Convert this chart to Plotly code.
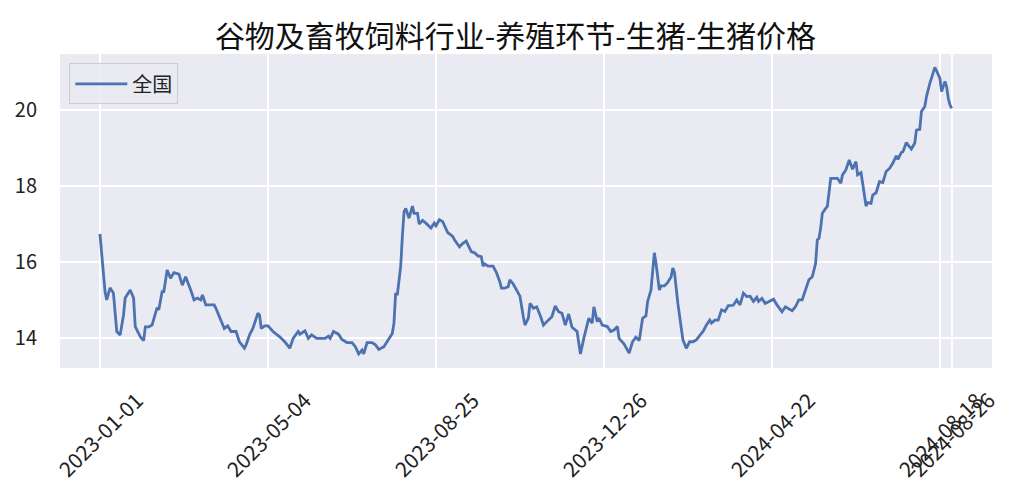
import plotly.graph_objects as go

title_text = "谷物及畜牧饲料行业-养殖环节-生猪-生猪价格"
series_name = "全国"

# row index of each sampled point (x axis is row position) and price values
row_idx = [0, 3, 4, 6, 8, 10, 12, 14, 15, 18, 20, 21, 24, 26, 27, 29, 31, 33, 34, 35, 37, 38, 40, 42, 44, 47, 49, 51, 53, 54,
           56, 58, 60, 61, 63, 68, 69, 72, 74, 76, 78, 81, 83, 86, 87, 89, 91, 94, 95, 96, 98, 100, 103, 107, 110, 113, 115, 118, 119, 122,
           124, 126, 129, 134, 136, 137, 139, 142, 144, 147, 150, 152, 154, 156, 157, 159, 162, 164, 166, 169, 172, 174, 175, 176, 177, 179, 180, 181, 182, 184,
           186, 187, 189, 190, 192, 194, 197, 199, 200, 202, 204, 205, 207, 210, 211, 214, 216, 218, 221, 223, 225, 227, 228, 229, 231, 234, 236, 238, 239, 241,
           243, 244, 246, 248, 250, 252, 253, 255, 256, 258, 260, 262, 264, 266, 269, 271, 273, 275, 277, 279, 281, 284, 286, 288, 291, 293, 294, 296, 297, 299,
           302, 304, 306, 308, 309, 312, 314, 315, 317, 319, 321, 322, 323, 325, 326, 328, 330, 331, 333, 334, 336, 338, 340, 341, 342, 344, 347, 349, 351, 353,
           355, 358, 359, 361, 363, 364, 366, 368, 370, 372, 374, 377, 379, 381, 383, 385, 387, 389, 391, 392, 394, 396, 399, 401, 403, 406, 408, 410, 412, 414,
           416, 418, 420, 422, 424, 426, 427, 428, 429, 430, 432, 433, 435, 439, 441, 442, 444, 446, 448, 450, 451, 453, 454, 456, 457, 459, 460, 462, 464, 466,
           468, 470, 472, 474, 475, 477, 478, 480, 481, 483, 485, 486, 488, 489, 491, 492, 494, 496, 497, 498, 500, 501, 503, 504, 505, 506, 507]

price = [16.74, 15.22, 15.00, 15.32, 15.18, 14.17, 14.08, 14.60, 15.05, 15.26, 15.05, 14.30, 14.03, 13.93, 14.29, 14.29, 14.34, 14.69, 14.80, 14.74, 15.22, 15.22, 15.79, 15.57, 15.72, 15.68, 15.39, 15.61, 15.39, 15.26,
         15.00, 15.05, 15.00, 15.13, 14.87, 14.87, 14.78, 14.47, 14.25, 14.32, 14.17, 14.17, 13.90, 13.73, 13.82, 14.08, 14.25, 14.65, 14.60, 14.25, 14.32, 14.32, 14.17, 14.03, 13.90, 13.73, 13.99, 14.17, 14.10, 14.19,
         13.99, 14.08, 13.99, 13.99, 14.05, 13.99, 14.17, 14.10, 13.96, 13.88, 13.88, 13.77, 13.58, 13.68, 13.58, 13.88, 13.88, 13.82, 13.70, 13.77, 13.96, 14.12, 14.39, 15.18, 15.13, 15.88, 16.67, 17.32, 17.41, 17.15,
         17.47, 17.28, 17.28, 17.00, 17.09, 17.02, 16.89, 17.02, 16.95, 17.11, 17.06, 16.97, 16.77, 16.67, 16.58, 16.40, 16.49, 16.55, 16.27, 16.24, 16.16, 16.14, 15.89, 15.95, 15.89, 15.89, 15.72, 15.48, 15.31, 15.31,
         15.35, 15.53, 15.42, 15.26, 15.10, 14.56, 14.34, 14.52, 14.91, 14.78, 14.82, 14.60, 14.34, 14.43, 14.56, 14.84, 14.69, 14.65, 14.34, 14.63, 14.28, 14.17, 13.58, 13.99, 14.52, 14.39, 14.82, 14.43, 14.52, 14.34,
         14.30, 14.17, 14.21, 14.30, 13.99, 13.84, 13.70, 13.60, 13.90, 14.02, 13.93, 14.21, 14.52, 14.58, 14.96, 15.26, 16.24, 15.96, 15.26, 15.37, 15.37, 15.46, 15.61, 15.84, 15.72, 14.91, 13.95, 13.73, 13.90, 13.90,
         13.95, 14.12, 14.17, 14.34, 14.47, 14.39, 14.47, 14.47, 14.74, 14.70, 14.85, 14.86, 15.00, 14.87, 15.18, 15.09, 15.10, 14.96, 15.07, 14.96, 15.04, 14.91, 14.98, 15.02, 14.87, 14.69, 14.82, 14.78, 14.72, 14.82,
         15.00, 15.00, 15.26, 15.53, 15.61, 15.96, 16.58, 16.62, 16.89, 17.28, 17.41, 17.46, 18.20, 18.20, 18.07, 18.29, 18.42, 18.68, 18.44, 18.64, 18.29, 18.35, 18.07, 17.47, 17.56, 17.54, 17.76, 17.82, 18.11, 18.09,
         18.38, 18.46, 18.60, 18.79, 18.70, 18.88, 18.90, 19.14, 19.08, 18.97, 19.12, 19.47, 19.49, 19.96, 20.09, 20.35, 20.70, 20.98, 21.12, 21.03, 20.83, 20.48, 20.75, 20.61, 20.30, 20.13, 20.04]

tick_pos = [0, 100, 200, 300, 400, 500, 507]
tick_labels = ["2023-01-01", "2023-05-04", "2023-08-25", "2023-12-26", "2024-04-22", "2024-08-18", "2024-08-26"]
y_ticks = [14, 16, 18, 20]

FONT = "Noto Sans CJK SC"

fig = go.Figure()
fig.add_trace(go.Scatter(x=row_idx, y=price, mode="lines", name=series_name,
                         line=dict(color="#4C72B0", width=2.8)))

for p, lab in zip(tick_pos, tick_labels):
    fig.add_annotation(x=p, y=-0.045, xref="x", yref="paper", text=lab, showarrow=False,
                       textangle=-45, xanchor="center", yanchor="top",
                       font=dict(family=FONT, size=21, color="#222222"))

fig.update_layout(
    width=1015, height=500,
    margin=dict(l=52, r=31, t=46, b=140, autoexpand=False),
    paper_bgcolor="white", plot_bgcolor="#EAEAF2",
    title=dict(text=title_text, x=0.5, xanchor="center", y=0.944, yanchor="middle",
               font=dict(family=FONT, size=30, color="#111111")),
    showlegend=True,
    legend=dict(x=0.01, y=0.97, xanchor="left", yanchor="top", itemwidth=52,
                bgcolor="rgba(234,234,242,0.85)", bordercolor="#CCCCCC", borderwidth=1,
                font=dict(family=FONT, size=20, color="#222222")),
    xaxis=dict(range=[-23.8, 531], tickvals=tick_pos, showticklabels=False,
               showgrid=True, gridcolor="white", gridwidth=1.6, zeroline=False, showline=False, ticks=""),
    yaxis=dict(range=[13.21, 21.47], tickvals=y_ticks, showgrid=True, gridcolor="white", gridwidth=1.6,
               zeroline=False, showline=False, ticks="", ticklabelstandoff=22,
               tickfont=dict(family=FONT, size=20, color="#222222")),
)

fig.write_html("out.html")
